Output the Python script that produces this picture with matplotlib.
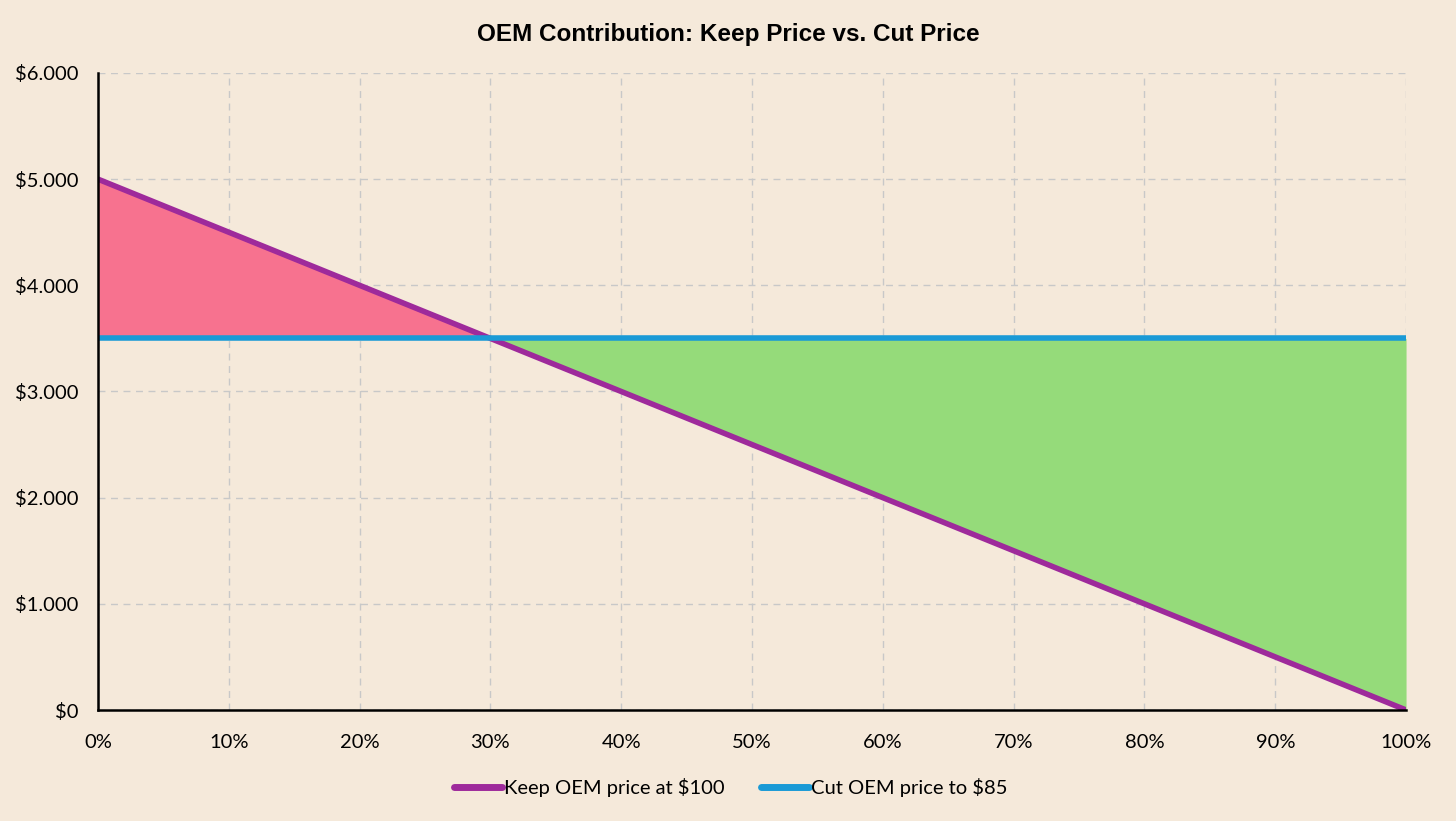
import numpy as np
import matplotlib.pyplot as plt
from matplotlib.ticker import FuncFormatter

# share of units sold at the lower price (percent)
share = [0, 10, 20, 30, 40, 50, 60, 70, 80, 90, 100]
keep_price = [5000, 4500, 4000, 3500, 3000, 2500, 2000, 1500, 1000, 500, 0]
cut_price = [3500, 3500, 3500, 3500, 3500, 3500, 3500, 3500, 3500, 3500, 3500]

bg = '#F5E9DA'
purple = '#9E2A9B'
blue = '#1A9AD6'

x = np.array(share) / 100
keep = np.array(keep_price)
cut = np.array(cut_price)

fig = plt.figure(figsize=(14.56, 8.21), dpi=100, facecolor=bg)
ax = fig.add_axes([0.0673, 0.1352, 0.8984, 0.7759], facecolor=bg)

ax.fill_between(x, keep, cut, where=keep >= cut, interpolate=True,
                color='#F7728F', linewidth=0, zorder=1)
ax.fill_between(x, keep, cut, where=keep <= cut, interpolate=True,
                color='#95DB7A', linewidth=0, zorder=1)

ax.plot(x, keep, color=purple, lw=4, solid_capstyle='butt', zorder=3,
        label='Keep OEM price at $100')
ax.plot(x, cut, color=blue, lw=4, solid_capstyle='butt', zorder=3,
        label='Cut OEM price to $85')

ax.set_xlim(0, 1)
ax.set_ylim(0, 6000)
ax.set_xticks(np.arange(0, 1.01, 0.1))
ax.set_yticks(np.arange(0, 6001, 1000))
ax.xaxis.set_major_formatter(FuncFormatter(lambda v, p: f'{v*100:.0f}%'))
ax.yaxis.set_major_formatter(
    FuncFormatter(lambda v, p: '$' + f'{v:,.0f}'.replace(',', '.')))
ax.tick_params(length=0, labelsize=14.5, colors='black')
ax.tick_params(axis='x', pad=17)
ax.tick_params(axis='y', pad=14)
for lab in ax.get_xticklabels() + ax.get_yticklabels():
    lab.set_family('Lato')

ax.grid(True, color='#C8C8C8', linestyle=(0, (5, 4)), linewidth=1, zorder=0)
ax.set_axisbelow(True)
for s in ['top', 'right']:
    ax.spines[s].set_visible(False)
for s in ['left', 'bottom']:
    ax.spines[s].set_linewidth(1.8)
    ax.spines[s].set_color('black')
    ax.spines[s].set_zorder(4)

fig.suptitle('OEM Contribution: Keep Price vs. Cut Price', y=0.972,
             fontsize=17.5, fontweight='bold', family='Liberation Sans')

leg = fig.legend(loc='center', bbox_to_anchor=(0.502, 0.041), ncol=2,
                 frameon=False, handlelength=2.4, handletextpad=0.1,
                 columnspacing=1.8, prop={'family': 'Lato', 'size': 14.5})
for line in leg.get_lines():
    line.set_linewidth(5)
    line.set_solid_capstyle('round')

fig.savefig('out.png', dpi=100, facecolor=bg)
